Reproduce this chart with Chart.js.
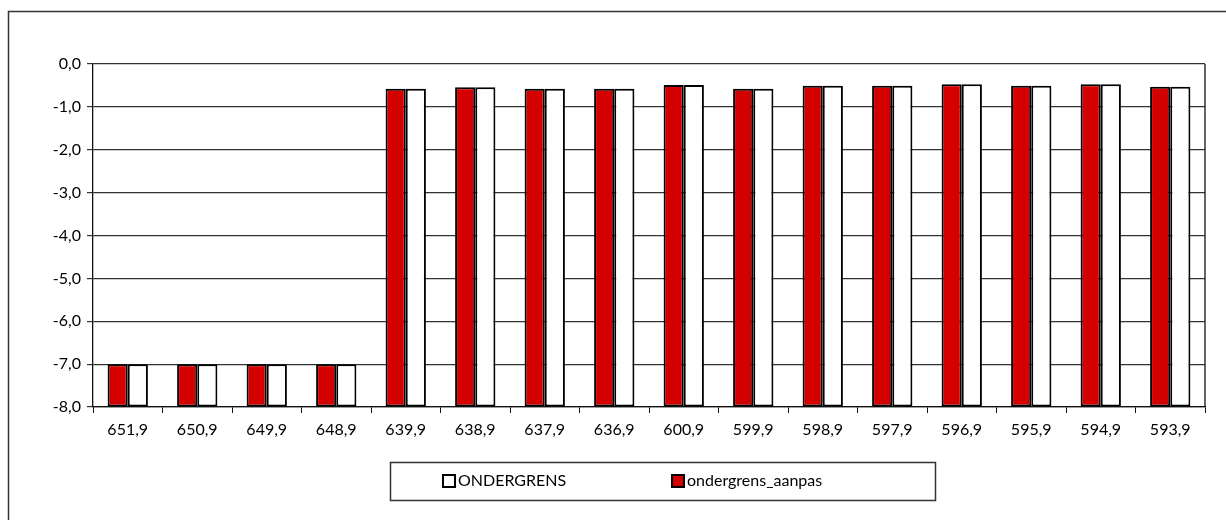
<!DOCTYPE html>
<html>
<head>
<meta charset="utf-8">
<script src="https://cdn.jsdelivr.net/npm/chart.js@4.4.1/dist/chart.umd.min.js"></script>
<style>
  html, body { margin: 0; padding: 0; background: #fff; }
  #wrap { width: 1226px; height: 520px; }
</style>
</head>
<body>
<div id="wrap"><canvas id="chart" width="1226" height="520"></canvas></div>
<script>
const categories = ['651,9', '650,9', '649,9', '648,9', '639,9', '638,9', '637,9', '636,9',
  '600,9', '599,9', '598,9', '597,9', '596,9', '595,9', '594,9', '593,9'];
const ondergrensAanpas = [-7.0, -7.0, -7.0, -7.0, -0.58, -0.54, -0.58, -0.58,
  -0.49, -0.58, -0.51, -0.51, -0.47, -0.51, -0.47, -0.53];
const ondergrens = [-7.0, -7.0, -7.0, -7.0, -0.58, -0.54, -0.58, -0.58,
  -0.49, -0.58, -0.51, -0.51, -0.47, -0.51, -0.47, -0.53];
const yMin = -8;
const yMax = 0;

const fontFamily = 'Lato, "DejaVu Sans", sans-serif';

// frame round the chart, right border of the plot and the boxed legend
const framePlugin = {
  id: 'frame',
  afterDraw(chart) {
    const ctx = chart.ctx;
    const area = chart.chartArea;
    ctx.save();
    ctx.strokeStyle = '#333';
    ctx.lineWidth = 1.5;
    ctx.beginPath();
    ctx.moveTo(8.5, 530);
    ctx.lineTo(8.5, 11.5);
    ctx.lineTo(1230, 11.5);
    ctx.stroke();

    ctx.strokeStyle = '#111';
    ctx.lineWidth = 1.3;
    ctx.beginPath();
    ctx.moveTo(area.right, area.top);
    ctx.lineTo(area.right, area.bottom);
    ctx.stroke();

    // legend
    ctx.strokeStyle = '#333';
    ctx.lineWidth = 1.5;
    ctx.strokeRect(390.5, 462.5, 545, 38);
    const items = [
      { ds: chart.data.datasets[1], x: 443 },
      { ds: chart.data.datasets[0], x: 672 }
    ];
    ctx.font = '16px ' + fontFamily;
    ctx.textBaseline = 'middle';
    items.forEach(it => {
      ctx.fillStyle = it.ds.backgroundColor;
      ctx.fillRect(it.x, 475, 12, 12);
      ctx.strokeStyle = '#000';
      ctx.lineWidth = 2;
      ctx.strokeRect(it.x, 475, 12, 12);
      ctx.fillStyle = '#000';
      ctx.fillText(it.ds.label, it.x + 15, 481);
    });
    ctx.restore();
  }
};

new Chart(document.getElementById('chart'), {
  type: 'bar',
  data: {
    labels: categories,
    datasets: [
      {
        label: 'ondergrens_aanpas',
        data: ondergrensAanpas,
        base: yMin,
        backgroundColor: '#d40000',
        borderColor: '#000',
        borderWidth: 2,
        borderSkipped: false,
        barPercentage: 1.0,
        categoryPercentage: 0.58
      },
      {
        label: 'ONDERGRENS',
        data: ondergrens,
        base: yMin,
        backgroundColor: '#ffffff',
        borderColor: '#000',
        borderWidth: 2,
        borderSkipped: false,
        barPercentage: 1.0,
        categoryPercentage: 0.58
      }
    ]
  },
  options: {
    responsive: false,
    animation: false,
    layout: { padding: { left: 8, top: 64, right: 21, bottom: 73 } },
    plugins: {
      legend: { display: false },
      tooltip: { enabled: false }
    },
    scales: {
      x: {
        offset: true,
        grid: { drawOnChartArea: false, drawTicks: true, tickLength: 6, color: '#111', offset: true },
        border: { color: '#111', width: 1.3 },
        ticks: { color: '#000', font: { family: fontFamily, size: 16 }, padding: 7, maxRotation: 0, autoSkip: false },
        afterFit(scale) { scale.height = 40; }
      },
      y: {
        min: yMin,
        max: yMax,
        grid: { color: '#333', lineWidth: 1.2, tickLength: 6 },
        border: { color: '#111', width: 1.3 },
        ticks: {
          stepSize: 1,
          color: '#000',
          font: { family: fontFamily, size: 16 },
          padding: 6,
          callback: v => v.toFixed(1).replace('.', ',')
        },
        afterFit(scale) { scale.width = 85; }
      }
    }
  },
  plugins: [framePlugin]
});
</script>
</body>
</html>
